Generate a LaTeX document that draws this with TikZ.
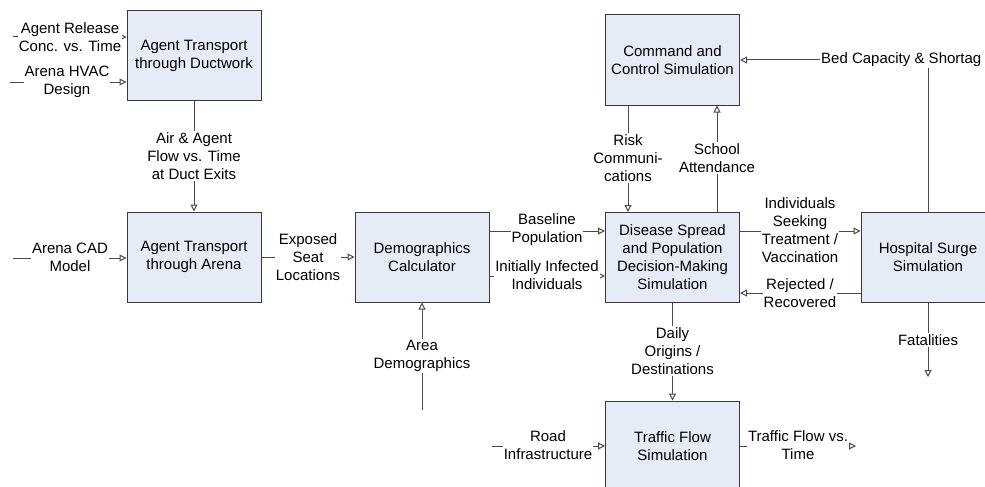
\documentclass[tikz,border=0pt]{standalone}
\usepackage{fontspec}
\setmainfont{Liberation Sans}
\usetikzlibrary{arrows.meta}
\definecolor{boxfill}{HTML}{E6ECF7}
\definecolor{boxline}{HTML}{3A3A3A}
\definecolor{flowline}{HTML}{4A4A4A}
\tikzset{
  simbox/.style={draw=boxline, fill=boxfill, line width=1pt, minimum width=134pt,
    minimum height=90pt, align=center, font=\fontsize{15}{18}\selectfont},
  flow/.style={draw=flowline, line width=1pt, -{Triangle[open, length=7pt, width=7pt]}},
  lbl/.style={fill=white, inner sep=1pt, align=center, font=\fontsize{15}{18}\selectfont}
}
\begin{document}
\begin{tikzpicture}[x=1pt, y=-1pt]
      \useasboundingbox (0,0) rectangle (985,487);
      \clip (0,0) rectangle (985,487);
      % boxes
      \node[simbox] (duct) at (194,55.5) {Agent Transport\\through Ductwork};
      \node[simbox] (arena) at (194,257) {Agent Transport\\through Arena};
      \node[simbox] (demo) at (422,257) {Demographics\\Calculator};
      \node[simbox] (cmd) at (672.5,60) {Command and\\Control Simulation};
      \node[simbox] (dis) at (672.5,257.5) {Disease Spread\\and Population\\Decision-Making\\Simulation};
      \node[simbox] (hosp) at (928,257.5) {Hospital Surge\\Simulation};
      \node[simbox] (traf) at (672.5,446) {Traffic Flow\\Simulation};
      % free ends
      \coordinate (rel) at (13,37);
      \coordinate (hvac) at (10,82);
      \coordinate (cad) at (13,258);
      \coordinate (area) at (422,410);
      \coordinate (road) at (492,446);
      \coordinate (fat) at (928,377);
      \coordinate (tfo) at (856,446);
      % connectors
      \draw[flow] (rel) -- (rel -| duct.west);
      \node[lbl] (relL) at (70,37) {Agent Release\\Conc. vs. Time};
      \draw[flow] (hvac) -- (hvac -| duct.west);
      \node[lbl] (hvacL) at (67,82) {Arena HVAC\\Design};
      \draw[flow] (duct) -- (arena);
      \node[lbl] (ductL) at (194,156) {Air \& Agent\\Flow vs. Time\\at Duct Exits};
      \draw[flow] (cad) -- (cad -| arena.west);
      \node[lbl] (cadL) at (70,257) {Arena CAD\\Model};
      \draw[flow] (arena) -- (demo);
      \node[lbl] (seatL) at (308,257) {Exposed\\Seat\\Locations};
      \draw[flow] (area) -- (demo);
      \node[lbl] (areaL) at (422,356) {Area\\Demographics};
      \draw[flow] (demo.east |- 0,231) -- (dis.west |- 0,231);
      \node[lbl] (baseL) at (547,230) {Baseline\\Population};
      \draw[flow] (demo.east |- 0,276) -- (dis.west |- 0,276);
      \node[lbl] (infL) at (547,275) {Initially Infected\\Individuals};
      \draw[flow] (cmd.south -| 628,0) -- (dis.north -| 628,0);
      \node[lbl] (riskL) at (628,158) {Risk\\Communi-\\cations};
      \draw[flow] (dis.north -| 717,0) -- (cmd.south -| 717,0);
      \node[lbl] (schL) at (717,158) {School\\Attendance};
      \draw[flow] (hosp.north) |- (cmd.east);
      \node[lbl, anchor=west] (bedL) at (820,60) {Bed Capacity \& Shortag};
      \draw[flow] (dis.east |- 0,231) -- (hosp.west |- 0,231);
      \node[lbl] (seekL) at (800,230) {Individuals\\Seeking\\Treatment /\\Vaccination};
      \draw[flow] (hosp.west |- 0,293) -- (dis.east |- 0,293);
      \node[lbl] (rejL) at (800,293) {Rejected /\\Recovered};
      \draw[flow] (dis) -- (traf);
      \node[lbl] (odL) at (672.5,351) {Daily\\Origins /\\Destinations};
      \draw[flow] (hosp) -- (fat);
      \node[lbl] (fatL) at (928,340) {Fatalities};
      \draw[flow] (road) -- (traf);
      \node[lbl] (roadL) at (548,445) {Road\\Infrastructure};
      \draw[flow] (traf) -- (tfo);
      \node[lbl] (tfoL) at (798,445) {Traffic Flow vs.\\Time};
    \end{tikzpicture}
\end{document}
